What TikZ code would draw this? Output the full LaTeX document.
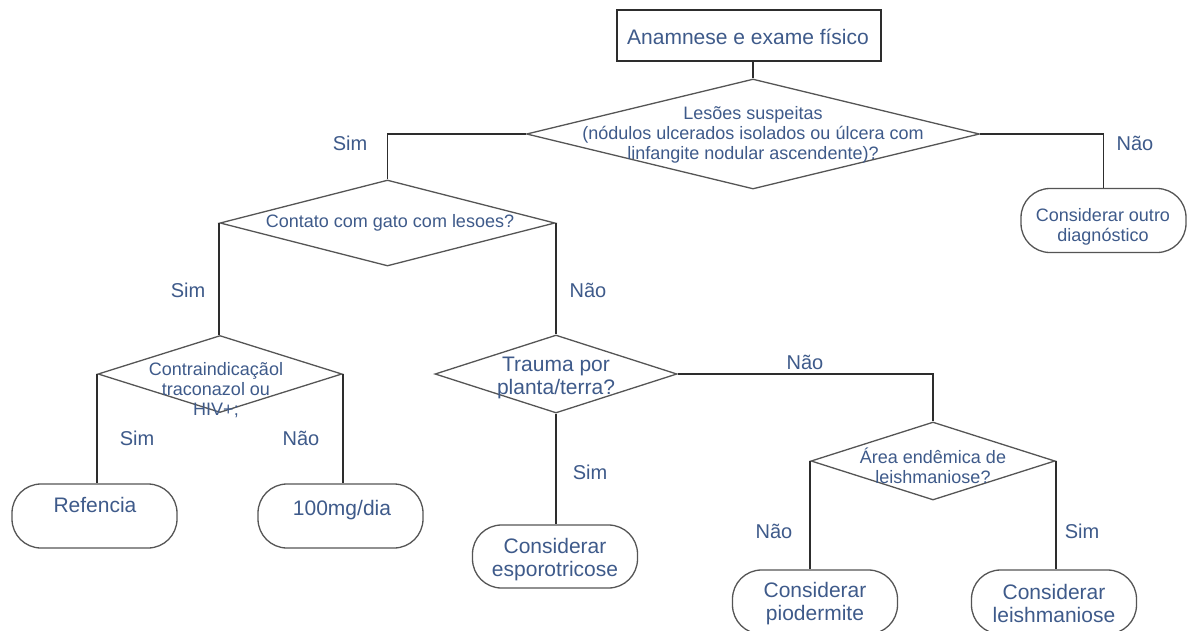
\documentclass[tikz,border=0pt]{standalone}
\usepackage{fontspec}
\setmainfont{Liberation Sans}
\usetikzlibrary{shapes.geometric}
\definecolor{txtc}{RGB}{62,90,138}
\definecolor{linec}{RGB}{45,45,45}
\definecolor{shapec}{RGB}{85,85,85}
\tikzset{
  every node/.style={text=txtc},
  dia/.style={shape=diamond, draw=shapec, line width=1.3pt, inner sep=0pt},
  term/.style={draw=shapec, line width=1.3pt, rounded corners=29pt, minimum width=165pt, minimum height=64pt, inner sep=0pt},
  procbox/.style={draw=linec, line width=1.5pt, minimum width=264pt, minimum height=51pt, inner sep=0pt},
  bigtxt/.style={font=\fontsize{21}{23}\selectfont, align=center, inner sep=0pt},
  smalltxt/.style={font=\fontsize{18}{20}\selectfont, align=center, inner sep=0pt},
  lbl/.style={font=\fontsize{20}{22}\selectfont, inner sep=0pt},
  conn/.style={draw=linec, line width=1.8pt},
}
\begin{document}
\begin{tikzpicture}[x=1pt,y=-1pt]
\useasboundingbox (0,0) rectangle (1189,630);
\fill[white] (0,0) rectangle (1189,630);

% top box
\node[procbox] (tb) at (749,35.5) {};
\node[bigtxt] (tbt) at (748,37) {Anamnese e exame físico};

% diamonds
\node[dia, minimum width=453pt, minimum height=110pt] (d1) at (753,134) {};
\node[smalltxt] (d1t) at (753,135) {Lesões suspeitas\\(nódulos ulcerados isolados ou úlcera com\\linfangite nodular ascendente)?};

\node[dia, minimum width=335pt, minimum height=86pt] (d2) at (387.5,223) {};
\node[smalltxt] (d2t) at (390,223) {Contato com gato com lesoes?};

\node[dia, minimum width=244pt, minimum height=77pt] (d3) at (220,374) {};
\node[smalltxt] (d3t) at (216,390) {Contraindicaçãol\\traconazol ou\\HIV+;};

\node[dia, minimum width=242pt, minimum height=78pt] (d4) at (556,374) {};
\node[bigtxt] (d4t) at (556,378) {Trauma por\\planta/terra?};

\node[dia, minimum width=244pt, minimum height=78pt] (d5) at (933,461) {};
\node[smalltxt] (d5t) at (933,466) {Área endêmica de\\leishmaniose?};

% terminal boxes
\node[term] (outro) at (1103.5,220.5) {};
\node[smalltxt] (outrot) at (1103,227) {Considerar outro\\diagnóstico};

\node[term] (ref) at (94.5,516) {};
\node[bigtxt] (reft) at (95,505) {Refencia};

\node[term] (mg) at (340.5,516) {};
\node[bigtxt] (mgt) at (342,510) {100mg/dia};

\node[term, minimum height=63pt] (espo) at (555,556.5) {};
\node[bigtxt] (espot) at (555,560) {Considerar\\esporotricose};

\node[term] (pio) at (815,602) {};
\node[bigtxt] (piot) at (815,604) {Considerar\\piodermite};

\node[term] (leish) at (1054,602) {};
\node[bigtxt] (leisht) at (1054,603) {Considerar\\leishmaniose};

% connectors
\draw[conn] (d1.north |- tb.south) -- (d1.north);
\draw[conn] (d1.west) -| (d2.north);
\draw[conn] (d1.east) -| (outro.north);
\draw[conn] (d2.west) -- (d2.west |- d3.north);
\draw[conn] (d2.east) -- (d2.east |- d4.north);
\draw[conn] (d3.west) -- (d3.west |- ref.north);
\draw[conn] (d3.east) -- (d3.east |- mg.north);
\draw[conn] (d4.south) -- (d4.south |- espo.north);
\draw[conn] (d4.east) -| (d5.north);
\draw[conn] (d5.west) -- (d5.west |- pio.north);
\draw[conn] (d5.east) -- (d5.east |- leish.north);

% labels
\node[lbl] (l1) at (350,143) {Sim};
\node[lbl] (l2) at (1135,143) {Não};
\node[lbl] (l3) at (188,290) {Sim};
\node[lbl] (l4) at (588,290) {Não};
\node[lbl] (l5) at (137,438) {Sim};
\node[lbl] (l6) at (301,438) {Não};
\node[lbl] (l7) at (590,472) {Sim};
\node[lbl] (l8) at (805,362) {Não};
\node[lbl] (l9) at (774,531) {Não};
\node[lbl] (l10) at (1082,531) {Sim};
\end{tikzpicture}
\end{document}
